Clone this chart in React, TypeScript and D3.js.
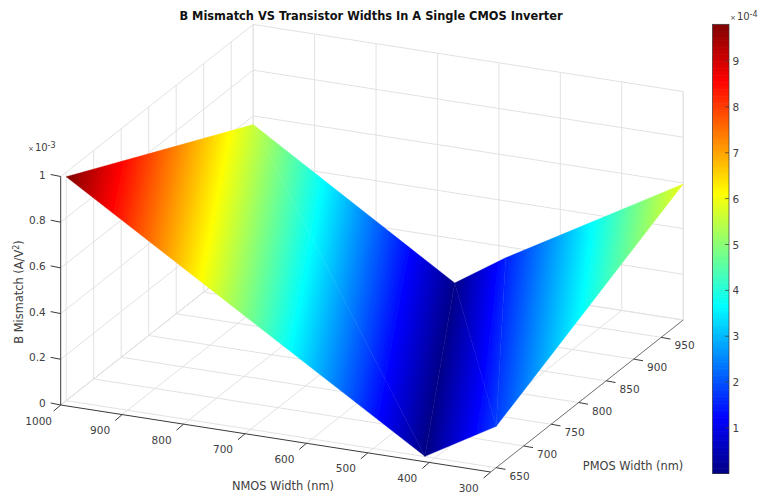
import React from 'react';
import * as d3 from 'd3';

const chartTitle = 'B Mismatch VS Transistor Widths In A Single CMOS Inverter';
const nmosTicks = [1000, 900, 800, 700, 600, 500, 400, 300];
const pmosTicks = [650, 700, 750, 800, 850, 900, 950];
const betaTicks = [0, 0.2, 0.4, 0.6, 0.8, 1];
const colorbarTicks = [1, 2, 3, 4, 5, 6, 7, 8, 9];

// surface columns: the mesh follows the valley, so NMOS differs at each PMOS edge
const nmosAtFrontEdge = [1000, 416, 300, 300];
const nmosAtBackEdge = [1000, 672, 589, 300];
const betaAtFrontEdge = [9.8e-4, 0.01e-4, 1.81e-4, 1.81e-4];
const betaAtBackEdge = [5.62e-4, 0.06e-4, 1.51e-4, 5.95e-4];
const pmosFront = 650;
const pmosBack = 990;

const nmosLim = [1000, 300];
const pmosLim = [640, 990];
const betaLim = [0, 1e-3];
const colorLim = [0.01e-4, 9.8e-4];

const TEXT = '#404040';
const GRID = '#e2e2e2';
const AXIS = '#3a3a3a';
const FONT = '"DejaVu Sans", sans-serif';

// orthographic view, floor corner at nmos=1000 / pmos=640
const origin = { x: 60.7, y: 405 };
const nmosVec = { x: 430, y: 67 };
const pmosVec = { x: 192.5, y: -152 };

const nx = d3.scaleLinear().domain(nmosLim).range([0, 1]);
const px = d3.scaleLinear().domain(pmosLim).range([0, 1]);
const zy = d3.scaleLinear().domain(betaLim).range([0, 228.5]);

const project = (n: number, p: number, b: number): [number, number] => [
  origin.x + nx(n) * nmosVec.x + px(p) * pmosVec.x,
  origin.y + nx(n) * nmosVec.y + px(p) * pmosVec.y - zy(b),
];

const jetStops = [0, 0.125, 0.375, 0.625, 0.875, 1];
const jetColors = ['#000084', '#0000ff', '#00ffff', '#ffff00', '#ff0000', '#800000'];
const jet = d3
  .scaleLinear<string>()
  .domain(jetStops.map((t) => colorLim[0] + t * (colorLim[1] - colorLim[0])))
  .range(jetColors)
  .clamp(true);

const cbY = d3.scaleLinear().domain([1e-4, 9e-4]).range([428, 61]);
const lineGen = d3.line();

type Vert = { pt: [number, number]; b: number };
type Tri = { id: string; d: string; x1: number; y1: number; x2: number; y2: number };

// each triangle is affine in beta, so one linear gradient shades it exactly
function makeTri(id: string, v: Vert[]): Tri | null {
  const [a, b, c] = v;
  const ux = b.pt[0] - a.pt[0];
  const uy = b.pt[1] - a.pt[1];
  const wx = c.pt[0] - a.pt[0];
  const wy = c.pt[1] - a.pt[1];
  const det = ux * wy - uy * wx;
  if (Math.abs(det) < 1e-6) return null;
  const du = b.b - a.b;
  const dw = c.b - a.b;
  const gx = (du * wy - dw * uy) / det;
  const gy = (dw * ux - du * wx) / det;
  const g2 = gx * gx + gy * gy;
  return {
    id,
    d: lineGen(v.map((p) => p.pt)) + 'Z',
    x1: a.pt[0] + ((colorLim[0] - a.b) * gx) / g2,
    y1: a.pt[1] + ((colorLim[0] - a.b) * gy) / g2,
    x2: a.pt[0] + ((colorLim[1] - a.b) * gx) / g2,
    y2: a.pt[1] + ((colorLim[1] - a.b) * gy) / g2,
  };
}

function buildSurface(): Tri[] {
  const front = nmosAtFrontEdge.map((n, i) => ({ pt: project(n, pmosFront, betaAtFrontEdge[i]), b: betaAtFrontEdge[i] }));
  const back = nmosAtBackEdge.map((n, i) => ({ pt: project(n, pmosBack, betaAtBackEdge[i]), b: betaAtBackEdge[i] }));
  const tris: (Tri | null)[] = [];
  d3.range(front.length - 1).forEach((i) => {
    tris.push(makeTri(`tri-${i}-a`, [front[i], back[i], front[i + 1]]));
    tris.push(makeTri(`tri-${i}-b`, [back[i], back[i + 1], front[i + 1]]));
  });
  return tris.filter(Boolean) as Tri[];
}

const surface = buildSurface();
const colorbarLevels = d3.range(0, 256);

const seg = (a: [number, number], b: [number, number]) => lineGen([a, b]) as string;

export default function App() {
  const [nA, nB] = nmosLim;
  const [pA, pB] = pmosLim;
  const bTop = betaLim[1];
  const betaVals = betaTicks.map((b) => b * 1e-3);

  const gridPaths: string[] = [];
  // floor
  nmosTicks.forEach((n) => gridPaths.push(seg(project(n, pA, 0), project(n, pB, 0))));
  pmosTicks.forEach((p) => gridPaths.push(seg(project(nA, p, 0), project(nB, p, 0))));
  // left wall
  pmosTicks.forEach((p) => gridPaths.push(seg(project(nA, p, 0), project(nA, p, bTop))));
  betaVals.forEach((b) => gridPaths.push(seg(project(nA, pA, b), project(nA, pB, b))));
  // back wall
  nmosTicks.forEach((n) => gridPaths.push(seg(project(n, pB, 0), project(n, pB, bTop))));
  betaVals.forEach((b) => gridPaths.push(seg(project(nA, pB, b), project(nB, pB, b))));
  gridPaths.push(seg(project(nA, pB, 0), project(nB, pB, 0)));
  gridPaths.push(seg(project(nA, pB, 0), project(nA, pB, bTop)));
  gridPaths.push(seg(project(nB, pB, 0), project(nB, pB, bTop)));
  gridPaths.push(seg(project(nA, pA, 0), project(nA, pB, 0)));

  return (
    <svg
      width={758}
      height={499}
      style={{ position: 'absolute', left: 0, top: 0, display: 'block', background: '#fff' }}
      fontFamily={FONT}
    >
      <defs>
        {surface.map((t) => (
          <linearGradient key={t.id} id={t.id} gradientUnits="userSpaceOnUse" x1={t.x1} y1={t.y1} x2={t.x2} y2={t.y2}>
            {jetStops.map((s, i) => (
              <stop key={s} offset={s} stopColor={jetColors[i]} />
            ))}
          </linearGradient>
        ))}
        <filter id="soften" filterUnits="userSpaceOnUse" x={0} y={0} width={758} height={499}>
          <feGaussianBlur stdDeviation={0.7} />
        </filter>
      </defs>

      <text x={371} y={20} textAnchor="middle" fontSize={11.4} fontWeight="bold" fill="#111">
        {chartTitle}
      </text>

      <g stroke={GRID} strokeWidth={1} fill="none">
        {gridPaths.map((d, i) => (
          <path key={i} d={d} />
        ))}
      </g>

      <g filter="url(#soften)">
        {surface.map((t) => (
          <path key={t.id} d={t.d} fill={`url(#${t.id})`} stroke={`url(#${t.id})`} strokeWidth={0.4} />
        ))}
      </g>

      {/* axes */}
      <g stroke={AXIS} strokeWidth={1} fill="none">
        <path d={seg(project(nA, pA, 0), project(nB, pA, 0))} />
        <path d={seg(project(nB, pA, 0), project(nB, pB, 0))} stroke="#777" />
        <path d={seg(project(nA, pA, 0), project(nA, pA, bTop))} />
        {nmosTicks.map((n) => {
          const [x, y] = project(n, pA, 0);
          return <path key={n} d={seg([x, y], [x - 7, y + 6])} />;
        })}
        {pmosTicks.map((p) => {
          const [x, y] = project(nB, p, 0);
          return <path key={p} d={seg([x, y], [x + 9.3, y + 1.7])} />;
        })}
        {betaVals.map((b) => {
          const [x, y] = project(nA, pA, b);
          return <path key={b} d={seg([x, y], [x - 10, y - 2])} />;
        })}
      </g>

      <g fontSize={10.5} fill={TEXT} textAnchor="middle">
        {nmosTicks.map((n) => {
          const [x, y] = project(n, pA, 0);
          return (
            <text key={n} x={x - 22} y={y + 19.5}>
              {n}
            </text>
          );
        })}
        {pmosTicks.map((p) => {
          const [x, y] = project(nB, p, 0);
          return (
            <text key={p} x={x + 23.4} y={y + 12}>
              {p}
            </text>
          );
        })}
      </g>
      <g fontSize={10.5} fill={TEXT} textAnchor="end">
        {betaTicks.map((b) => {
          const [x, y] = project(nA, pA, b * 1e-3);
          return (
            <text key={b} x={x - 15} y={y + 2}>
              {b}
            </text>
          );
        })}
      </g>

      <text x={283} y={490} textAnchor="middle" fontSize={11.4} fill={TEXT}>
        NMOS Width (nm)
      </text>
      <text x={633} y={470} textAnchor="middle" fontSize={11.4} fill={TEXT}>
        PMOS Width (nm)
      </text>
      <text transform="translate(23,292) rotate(-90)" textAnchor="middle" fontSize={11.4} fill={TEXT}>
        B Mismatch (A/V
        <tspan dy={-4} fontSize={8}>
          2
        </tspan>
        <tspan dy={4}>)</tspan>
      </text>
      <text x={28} y={151} fontSize={10} fill={TEXT}>
        <tspan fontSize={7}>×</tspan>
        <tspan dx={1}>10</tspan>
        <tspan dy={-3} fontSize={8}>
          -3
        </tspan>
      </text>

      {/* colorbar */}
      <g>
        {colorbarLevels.map((i) => {
          const v0 = colorLim[0] + ((colorLim[1] - colorLim[0]) * i) / 256;
          const v1 = colorLim[0] + ((colorLim[1] - colorLim[0]) * (i + 1)) / 256;
          const y1 = cbY(v1);
          return (
            <rect key={i} x={712.5} width={16.5} y={y1} height={cbY(v0) - y1 + 0.6} fill={jet((v0 + v1) / 2)} />
          );
        })}
        <rect
          x={712.5}
          y={cbY(colorLim[1])}
          width={16.5}
          height={cbY(colorLim[0]) - cbY(colorLim[1])}
          fill="none"
          stroke={AXIS}
          strokeWidth={0.7}
        />
        {colorbarTicks.map((t) => {
          const y = cbY(t * 1e-4);
          return (
            <g key={t}>
              <path d={seg([725, y], [729, y])} stroke={AXIS} strokeWidth={0.7} />
              <text x={732.5} y={y + 4} fontSize={10.5} fill={TEXT}>
                {t}
              </text>
            </g>
          );
        })}
      </g>
      <text x={730} y={20} fontSize={10} fill={TEXT}>
        <tspan fontSize={7}>×</tspan>
        <tspan dx={1}>10</tspan>
        <tspan dy={-3} fontSize={8}>
          -4
        </tspan>
      </text>
    </svg>
  );
}
